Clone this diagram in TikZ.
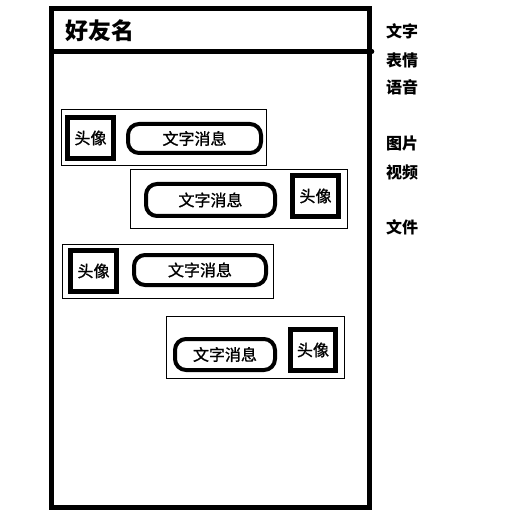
\documentclass[tikz,border=0pt]{standalone}
\usepackage{fontspec}
\setmainfont{Noto Sans CJK SC}
\newfontfamily\midfont{Noto Sans CJK SC}[FakeBold=1.2]
\usepackage{tikz}
\usetikzlibrary{positioning}

\begin{document}
\begin{tikzpicture}[
  x=1pt, y=-1pt,
  every node/.style={inner sep=0pt, font=\midfont\fontsize{16}{16}\selectfont},
  phone/.style={draw, line width=5pt, minimum width=317.5pt, minimum height=499pt},
  row/.style={draw, line width=0.8pt},
  avatar/.style={draw, line width=5pt, minimum width=46pt, minimum height=41pt},
  msg/.style={draw, line width=4pt, rounded corners=11pt, minimum height=30pt},
  menu/.style={font=\fontsize{16}{16}\selectfont\bfseries}
]
\useasboundingbox (0,0) rectangle (529,526);

\node[phone] (screen) at (210.25,258) {};
\node[font=\fontsize{23}{23}\selectfont\bfseries] (title) at (100,31) {好友名};
\coordinate (barL) at (51.5,51.5);
\coordinate (barR) at (372,51.5);
\draw[line width=4.5pt, line cap=round] (barL) -- (barR);

\node[row, minimum width=205.7pt, minimum height=55.7pt] (row1) at (163.8,137.2) {};
\node[avatar] (head1) at (90.5,138) {头像};
\node[msg, minimum width=133pt, minimum height=29pt] (text1) at (194.5,138.5) {文字消息};

\node[row, minimum width=217pt, minimum height=59pt] (row2) at (238.5,198.8) {};
\node[msg, minimum width=129pt, minimum height=32pt] (text2) at (210.5,200) {文字消息};
\node[avatar, minimum height=41.5pt] (head2) at (315.5,196) {头像};

\node[row, minimum width=211pt, minimum height=54pt] (row3) at (167.5,271.3) {};
\node[avatar] (head3) at (93.5,271) {头像};
\node[msg, minimum width=132pt] (text3) at (200,270) {文字消息};

\node[row, minimum width=178pt, minimum height=61.6pt] (row4) at (255,347.5) {};
\node[msg, minimum width=100pt, minimum height=31pt] (text4) at (225,354.5) {文字消息};
\node[avatar, minimum width=45pt] (head4) at (313,350) {头像};

\node[menu] (words) at (402,31.7) {文字};
\node[menu] (emoji) at (402,60) {表情};
\node[menu] (voice) at (402,87) {语音};
\node[menu] (photo) at (402,143) {图片};
\node[menu] (video) at (402,172) {视频};
\node[menu] (file) at (402,227) {文件};
\end{tikzpicture}
\end{document}
